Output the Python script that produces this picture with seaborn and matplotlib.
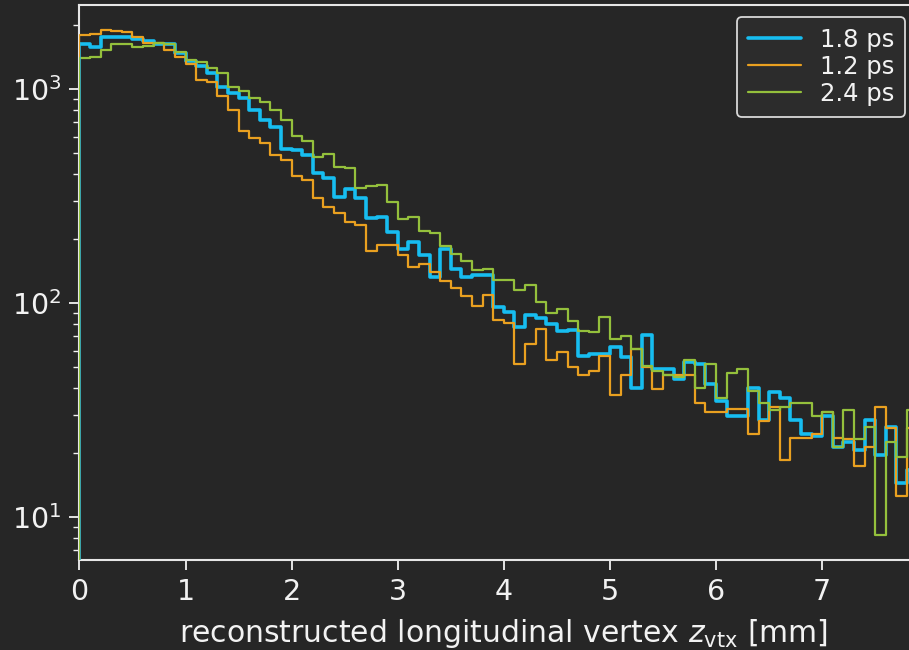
import numpy as np
import pandas as pd
import matplotlib
matplotlib.use("Agg")
import matplotlib.pyplot as plt
import seaborn as sns

# ---- data (counts per 0.1 mm bin) ----
bin_edges = [round(0.1 * k, 1) for k in range(80)]      # 0.0 ... 7.9
series_labels = ["1.8 ps", "1.2 ps", "2.4 ps"]

counts_18ps = [1630, 1577, 1755, 1755, 1755, 1705, 1675, 1630, 1618, 1470,
               1350, 1280, 1185, 1018, 960, 910, 798, 720, 665, 525,
               520, 494, 404, 382, 314, 340, 309, 250, 253, 215,
               179, 192, 168, 132, 179, 145, 132, 135, 135, 96,
               91, 77, 88, 85, 80, 74, 75, 56.5, 58, 58,
               62, 56, 40, 71, 49, 49, 44, 53, 52, 42,
               35, 29.5, 29.5, 40, 28.4, 38.6, 36, 28.4, 24.5, 24,
               29.5, 21.3, 22.5, 20.6, 28.4, 19.5, 26.3, 14.4, 16.6]

counts_12ps = [1787, 1806, 1888, 1868, 1841, 1745, 1645, 1645, 1521, 1416,
               1309, 1102, 1078, 930, 798, 640, 590, 560, 493, 466,
               392, 376, 311, 282, 264, 240, 231, 175, 187, 187,
               168, 148, 153, 140, 127, 118, 108, 97, 109, 83,
               81, 52, 64.5, 76, 54, 59, 50, 46, 48, 56.5,
               37, 46, 61, 50, 39.5, 46, 46, 46, 34, 31,
               31, 32, 32, 24.5, 28, 32.8, 18.5, 23.4, 23.4, 24.5,
               31, 23.4, 23.2, 17.3, 21.3, 32.8, 26, 12.5, 26]

counts_24ps = [1390, 1406, 1530, 1618, 1618, 1577, 1594, 1635, 1618, 1494,
               1367, 1342, 1249, 1185, 1025, 980, 905, 872, 798, 716,
               605, 570, 480, 497, 430, 426, 343, 352, 356, 295,
               246, 253, 217, 212, 185, 170, 158, 143, 145, 128,
               128, 115, 121, 101, 90, 94, 82, 74, 73, 86,
               68, 70, 61, 51, 48, 46, 45, 54, 40, 52,
               36, 47, 49, 39, 34, 31.6, 32.8, 34, 34, 29.5,
               31, 21.3, 31.6, 23.2, 26.3, 8.2, 22.5, 19.1, 31.6]

# ---- style ----
BG = "#262626"
FG = "#f2f2f2"
colors = ["#17bdf0", "#e9a020", "#94c03c"]
widths = [2.6, 1.6, 1.6]

sns.set_theme(style="dark", rc={
    "axes.facecolor": BG, "figure.facecolor": BG,
    "axes.edgecolor": "#e6e6e6", "axes.linewidth": 1.5,
    "text.color": FG, "axes.labelcolor": FG,
    "xtick.color": FG, "ytick.color": FG,
    "xtick.bottom": True, "ytick.left": True,
    "axes.grid": False,
})
plt.rcParams["font.family"] = ["DejaVu Sans"]
plt.rcParams["mathtext.fontset"] = "dejavusans"

fig = plt.figure(figsize=(9.09, 6.5), dpi=100)
fig.patch.set_facecolor(BG)
ax = fig.add_axes([0.0874, 0.1385, 0.9338, 0.8538])
ax.set_facecolor(BG)

centers = [e + 0.05 for e in bin_edges[:-1]]
all_counts = [counts_18ps, counts_12ps, counts_24ps]
for lab, cnt, col, lw in zip(series_labels, all_counts, colors, widths):
    df = pd.DataFrame({"z": centers, "n": np.asarray(cnt, dtype=float)})
    sns.histplot(data=df, x="z", weights="n", bins=bin_edges, element="step",
                 fill=False, color=col, linewidth=lw, label=lab, ax=ax)

ax.set_yscale("log")
ax.set_xlim(0, 8)
ax.set_ylim(6.3, 2470)

# left drop of the step histograms at the first bin edge
for cnt, col, lw in zip(all_counts, colors, widths):
    ax.plot([bin_edges[0], bin_edges[0]], [1, cnt[0]], color=col, lw=lw, zorder=3)

ax.set_xticks(range(0, 8))
ax.tick_params(axis="both", which="major", labelsize=20.5, length=7, width=1.3,
               pad=6, colors=FG)
ax.tick_params(axis="y", which="minor", length=4, width=1.0, colors=FG)
ax.spines["right"].set_visible(False)
ax.set_xlabel(r"reconstructed longitudinal vertex $z_\mathrm{vtx}$ [mm]",
              fontsize=21.5, color=FG, labelpad=8)
ax.set_ylabel("")

leg = ax.legend(loc="upper right", bbox_to_anchor=(905 / 909, 1 - 17 / 650),
                bbox_transform=fig.transFigure, borderaxespad=0, fontsize=17.5,
                labelspacing=0.12, handlelength=2.2, handletextpad=0.75,
                borderpad=0.45, frameon=True, fancybox=True)
leg.get_frame().set_facecolor("#2c2c2c")
leg.get_frame().set_edgecolor("#d8d8d8")
leg.get_frame().set_linewidth(1.3)
leg.get_frame().set_alpha(1)
for t in leg.get_texts():
    t.set_color(FG)

fig.savefig("out.png", dpi=100, facecolor=BG)
